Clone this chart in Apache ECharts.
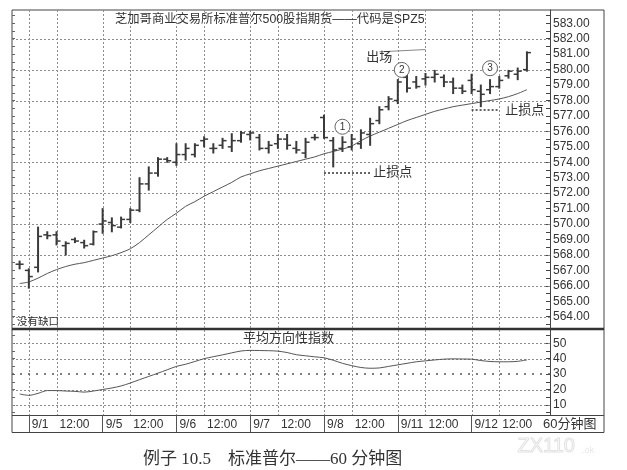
<!DOCTYPE html>
<html><head><meta charset="utf-8">
<script src="https://cdn.jsdelivr.net/npm/echarts@6/dist/echarts.min.js"></script>
<style>html,body{margin:0;padding:0;background:#fff}#c{width:627px;height:470px}</style>
</head><body><div id="c"></div>
<script>
// ---- categories (60-minute bars) ----
const days = ['9/1','9/5','9/6','9/7','9/8','9/11','9/12'];
const hours = ['9:00','10:00','11:00','12:00','13:00','14:00','15:00','16:00'];
const categories = ['8/31 16:00'];
days.forEach(d => hours.forEach(h => categories.push(d + ' ' + h)));
categories.push('pad');

// ---- OHLC values ----
const openP  = [567.4,567.0,567.2,569.3,569.3,568.6,569.0,568.8,568.7,570.0,570.1,569.8,570.3,570.9,572.6,573.3,574.2,574.0,574.5,574.5,575.4,574.9,575.1,575.0,575.4,575.8,575.6,574.9,575.2,575.5,574.9,574.6,575.6,576.9,575.4,574.9,575.0,575.2,575.8,576.7,577.6,578.0,579.5,579.2,579.4,579.5,579.5,579.2,578.8,579.3,578.6,578.7,578.9,579.6,579.7,580.0];
const highP  = [567.6,567.1,569.8,569.5,569.5,568.85,569.1,568.95,569.55,571.0,570.4,570.45,571.0,573.0,573.7,574.3,574.3,575.2,575.2,575.2,575.65,575.2,575.55,575.85,576.0,576.0,575.8,575.35,575.8,575.8,575.35,575.55,575.8,577.05,575.6,575.65,575.8,576.1,576.85,577.6,578.25,579.35,579.7,579.55,579.75,579.95,579.65,579.45,579.0,579.7,579.0,579.35,579.55,579.95,580.1,581.15];
const lowP   = [567.1,565.85,566.9,569.05,568.65,568.0,568.8,568.45,568.65,569.4,569.5,569.75,570.1,570.8,572.2,573.1,574.0,573.8,574.15,574.35,575.0,574.6,574.9,574.7,575.3,575.45,574.8,574.6,574.9,574.85,574.6,574.3,575.45,575.55,573.7,574.7,574.8,574.9,575.1,576.5,577.4,577.8,578.55,578.8,579.0,579.2,578.9,578.45,578.45,578.45,577.6,578.45,578.8,579.45,579.35,579.9];
const closeP = [567.4,566.6,569.2,569.25,568.9,568.75,568.9,568.6,569.5,570.2,569.9,570.3,570.9,572.6,573.3,574.2,574.1,574.5,574.9,575.1,575.5,574.9,575.4,575.4,575.9,575.9,574.9,575.1,575.5,575.1,574.8,575.3,575.6,575.6,574.8,575.3,575.5,575.9,576.5,577.4,578.1,579.2,578.8,578.9,579.5,579.7,579.2,578.8,578.6,578.7,578.4,578.9,579.3,579.9,579.9,581.1];
// moving average line
const maValues = [566.15,566.25,566.5,566.8,567.05,567.25,567.4,567.5,567.65,567.8,567.95,568.15,568.4,568.8,569.3,569.8,570.3,570.7,571.15,571.45,571.8,572.1,572.4,572.7,573.05,573.25,573.45,573.6,573.75,573.9,574.05,574.2,574.35,574.55,574.7,574.85,575.05,575.4,575.7,575.95,576.2,576.45,576.7,576.9,577.1,577.3,577.45,577.6,577.7,577.8,577.9,578.0,578.1,578.25,578.45,578.7];
// average directional index
const adxValues = [17.1,16.2,17.5,19.3,19.3,19.0,18.8,18.3,19.0,20.0,21.0,22.3,24.2,26.4,28.5,30.6,32.8,35.0,36.4,38.2,40.0,41.3,42.5,43.8,45.0,45.4,45.3,45.2,44.9,44.0,42.6,41.9,41.2,40.6,39.0,37.0,35.5,34.3,33.8,34.0,35.0,36.0,37.0,38.0,38.6,39.2,39.7,39.9,39.8,39.7,38.8,38.2,38.0,38.0,38.3,39.2];

// ---- tick labels ----
const priceLabels = [564,565,566,567,568,569,570,571,572,573,574,575,576,577,578,579,580,581,582,583];
const priceGrid = [564,566,568,570,572,574,576,578,580,582];
const adxLabels = [10,20,30,40,50];
const adxGrid = [10,20,40,50];
const adxRef = 30;
const stop1 = 573.35, stop2 = 577.38;

const priceTicks = [];
for (let v = 563.5; v <= 583.5; v += 0.5) priceTicks.push(v);
const adxTicks = [5,10,15,20,25,30,35,40,45,50,55];

const isDayStart = v => / 9:00$/.test(v);
const isNoon = v => / 12:00$/.test(v);
const vLineIdx = [];
categories.forEach((c, i) => { if (isDayStart(c) || isNoon(c)) vLineIdx.push(i); });

const ohlc = openP.map((o, i) => [i, o, highP[i], lowP[i], closeP[i]]);

const FONT = '"Liberation Sans", "Noto Sans CJK SC", sans-serif';
const GRID_COLOR = '#8c8c8c';

// grid-line renderers (drawn through the axes' own scales)
function hLineRender(params, api) {
  const cs = params.coordSys;
  const y = Math.round(api.coord([0, api.value(1)])[1]) + 0.5;
  return {type: 'line', silent: true, z2: 0, shape: {x1: cs.x - 3, y1: y, x2: cs.x + cs.width, y2: y},
          style: {stroke: GRID_COLOR, lineWidth: 1, lineDash: [2, 2]}};
}
function vLineRender(params, api) {
  const cs = params.coordSys;
  const x = Math.round(api.coord([api.value(0), 0])[0]) + 0.5;
  return {type: 'line', silent: true, z2: 0, shape: {x1: x, y1: cs.y, x2: x, y2: cs.y + cs.height},
          style: {stroke: GRID_COLOR, lineWidth: 1, lineDash: [2, 2]}};
}

const chart = echarts.init(document.getElementById('c'), null, {renderer: 'canvas'});
chart.setOption({
  animation: false,
  backgroundColor: '#fff',
  textStyle: {fontFamily: FONT},
  title: [
    {text: '芝加哥商业交易所标准普尔500股指期货——代码是SPZ5', left: 115, top: 13, padding: 0,
     textStyle: {fontSize: 12.3, fontWeight: 'normal', color: '#333', fontFamily: FONT}},
    {text: '平均方向性指数', left: 243, top: 332, padding: 0,
     textStyle: {fontSize: 13, fontWeight: 'normal', color: '#333', fontFamily: FONT}},
    {text: '没有缺口', left: 17, top: 317, padding: 0,
     textStyle: {fontSize: 10.5, fontWeight: 'normal', color: '#333', fontFamily: FONT}},
    {text: '60分钟图', left: 543, top: 418, padding: 0,
     textStyle: {fontSize: 13, fontWeight: 'normal', color: '#333', fontFamily: FONT}},
    {text: '例子 10.5　标准普尔——60 分钟图', left: 143, top: 451, padding: 0,
     textStyle: {fontSize: 17, fontWeight: 'normal', color: '#333', fontFamily: '"Liberation Serif", "Noto Sans CJK SC", serif'}}
  ],
  grid: [
    {left: 15, top: 10, width: 535, height: 318},
    {left: 15, top: 330, width: 535, height: 85}
  ],
  xAxis: [
    {type: 'category', gridIndex: 0, data: categories, boundaryGap: true, show: false},
    {type: 'category', gridIndex: 1, data: categories, boundaryGap: true,
     axisLine: {show: false},
     axisTick: {show: true, alignWithLabel: true, interval: (i, v) => isDayStart(v), length: 17,
                lineStyle: {color: '#555', width: 1}},
     axisLabel: {interval: (i, v) => isDayStart(v) || isNoon(v),
                 formatter: v => isDayStart(v) ? v.split(' ')[0] : (isNoon(v) ? '12:00' : ''),
                 align: 'left', margin: 4, padding: [0, 0, 0, 3], color: '#333', fontSize: 12},
     splitLine: {show: false}}
  ],
  yAxis: [
    {type: 'value', gridIndex: 0, position: 'right', min: 563.27, max: 583.86,
     axisLine: {show: true, lineStyle: {color: '#444'}},
     axisTick: {show: true, inside: true, length: 4, customValues: priceTicks, lineStyle: {color: '#444'}},
     axisLabel: {customValues: priceLabels, formatter: v => v.toFixed(2), margin: 3, color: '#333', fontSize: 12},
     splitLine: {show: false}},
    {type: 'value', gridIndex: 0, position: 'left', offset: 3, min: 563.27, max: 583.86,
     axisLine: {show: false},
     axisTick: {show: true, inside: true, length: 3, customValues: priceTicks, lineStyle: {color: '#666'}},
     axisLabel: {show: false}, splitLine: {show: false}},
    {type: 'value', gridIndex: 1, position: 'right', min: 3.44, max: 58.64,
     axisLine: {show: true, lineStyle: {color: '#444'}},
     axisTick: {show: true, inside: true, length: 4, customValues: adxTicks, lineStyle: {color: '#444'}},
     axisLabel: {customValues: adxLabels, margin: 3, color: '#333', fontSize: 12},
     splitLine: {show: false}},
    {type: 'value', gridIndex: 1, position: 'left', offset: 3, min: 3.44, max: 58.64,
     axisLine: {show: false},
     axisTick: {show: true, inside: true, length: 3, customValues: adxTicks, lineStyle: {color: '#666'}},
     axisLabel: {show: false}, splitLine: {show: false}}
  ],
  series: [
    {type: 'custom', name: 'hgrid1', xAxisIndex: 0, yAxisIndex: 0, z: 1, silent: true, clip: false,
     data: priceGrid.map(v => [0, v]), encode: {x: 0, y: 1}, renderItem: hLineRender},
    {type: 'custom', name: 'vgrid1', xAxisIndex: 0, yAxisIndex: 0, z: 1, silent: true, clip: false,
     data: vLineIdx.map(i => [i, 570]), encode: {x: 0, y: 1}, renderItem: vLineRender},
    {type: 'custom', name: 'hgrid2', xAxisIndex: 1, yAxisIndex: 2, z: 1, silent: true, clip: false,
     data: adxGrid.map(v => [0, v]), encode: {x: 0, y: 1}, renderItem: hLineRender},
    {type: 'custom', name: 'vgrid2', xAxisIndex: 1, yAxisIndex: 2, z: 1, silent: true, clip: false,
     data: vLineIdx.map(i => [i, 30]), encode: {x: 0, y: 1}, renderItem: vLineRender},
    {
      type: 'custom', name: 'SPZ5', xAxisIndex: 0, yAxisIndex: 0, z: 3,
      data: ohlc,
      encode: {x: 0, y: [1, 2, 3, 4]},
      renderItem: function (params, api) {
        const x = api.value(0);
        const pO = api.coord([x, api.value(1)]);
        const pH = api.coord([x, api.value(2)]);
        const pL = api.coord([x, api.value(3)]);
        const pC = api.coord([x, api.value(4)]);
        const col = '#3a3a3a';
        return {type: 'group', children: [
          {type: 'line', shape: {x1: pH[0], y1: pH[1] - 0.5, x2: pL[0], y2: pL[1] + 0.5}, style: {stroke: col, lineWidth: 2}},
          {type: 'line', shape: {x1: pO[0] - 4, y1: pO[1], x2: pO[0], y2: pO[1]}, style: {stroke: col, lineWidth: 1.5}},
          {type: 'line', shape: {x1: pC[0], y1: pC[1], x2: pC[0] + 4, y2: pC[1]}, style: {stroke: col, lineWidth: 1.5}}
        ]};
      }
    },
    {
      type: 'line', name: 'MA', xAxisIndex: 0, yAxisIndex: 0, data: maValues, z: 2,
      smooth: 0.3, showSymbol: false, symbol: 'none',
      lineStyle: {color: '#555', width: 1},
      markLine: {
        silent: true, symbol: ['none', 'none'], label: {show: false},
        data: [
          [{coord: [33, stop1], lineStyle: {color: '#333', type: [2, 2], width: 1.5},
            label: {show: true, position: 'end', formatter: '止损点', color: '#333', fontSize: 13, distance: 3, fontFamily: FONT}},
           {coord: [38, stop1]}],
          [{coord: [49, stop2], lineStyle: {color: '#333', type: [2, 2], width: 1.5},
            label: {show: true, position: 'end', formatter: '止损点', color: '#333', fontSize: 13, distance: 6, fontFamily: FONT}},
           {coord: [52, stop2]}],
          [{coord: [39, 581.15], lineStyle: {color: '#888', type: 'solid', width: 1}},
           {coord: [44, 581.3]}]
        ]
      },
      markPoint: {
        silent: true,
        symbol: 'circle', symbolSize: 15,
        itemStyle: {color: '#fff', borderColor: '#666', borderWidth: 1},
        label: {show: true, position: 'inside', formatter: '{c}', color: '#333', fontSize: 10},
        data: [
          {coord: [35, 576.3], value: '1'},
          {coord: [41, 579.98], value: '2', symbolOffset: [4, 0]},
          {coord: [51, 580.09], value: '3'},
          {coord: [39, 580.8], value: '出场', symbolSize: 1, itemStyle: {color: 'rgba(0,0,0,0)', borderWidth: 0},
           label: {show: true, position: 'inside', formatter: '出场', fontSize: 13, color: '#333', fontFamily: FONT}}
        ]
      }
    },
    {
      type: 'line', name: 'ADX', xAxisIndex: 1, yAxisIndex: 2, data: adxValues, z: 2,
      smooth: 0.3, showSymbol: false, symbol: 'none',
      lineStyle: {color: '#555', width: 1},
      markLine: {
        silent: true, symbol: ['none', 'none'], label: {show: false},
        data: [
          [{coord: [0, adxRef], x: 12, lineStyle: {color: '#555', type: [2, 6], width: 1.5}}, {coord: [57, adxRef], x: 550}]
        ]
      }
    }
  ],
  graphic: [
    {type: 'rect', shape: {x: 12, y: 10, width: 592, height: 422.5}, style: {fill: 'none', stroke: '#444', lineWidth: 1}, silent: true},
    {type: 'line', shape: {x1: 12, y1: 329, x2: 604, y2: 329}, style: {stroke: '#333', lineWidth: 2.5}, silent: true},
    {type: 'line', shape: {x1: 12, y1: 415.5, x2: 604, y2: 415.5}, style: {stroke: '#444', lineWidth: 1}, silent: true},
    {type: 'text', left: 517, top: 436, silent: true,
     style: {text: 'ZX110', fill: 'rgba(0,0,0,0)', stroke: '#e2e2e2', lineWidth: 1, font: '20px "Liberation Sans", sans-serif'}},
    {type: 'text', left: 582, top: 446, silent: true,
     style: {text: '.ok', fill: '#e6e6e6', font: '9px "Liberation Sans", sans-serif'}}
  ]
});
</script>
</body></html>
